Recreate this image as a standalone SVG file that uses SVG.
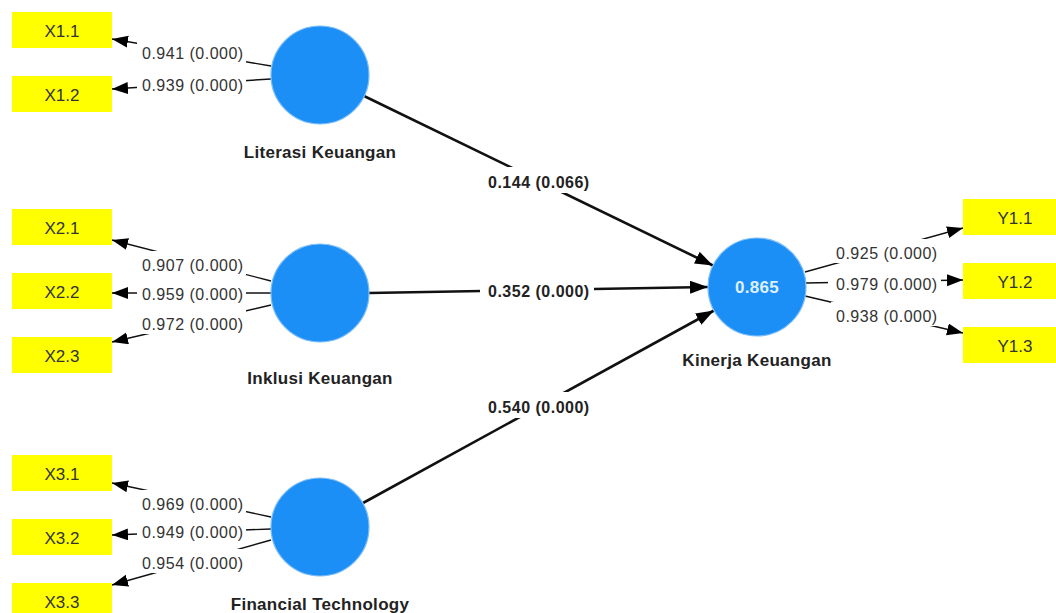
<svg xmlns="http://www.w3.org/2000/svg" width="1056" height="613" viewBox="0 0 1056 613">
<style>
.box{fill:#ffff00}
.btxt{font-family:"Liberation Sans",Arial,sans-serif;font-size:17px;fill:#333;text-anchor:middle}
.lv{fill:#1b8ff5;stroke:#7dbdf7;stroke-width:1.2}
.ntxt{font-family:"Liberation Sans",Arial,sans-serif;font-size:17px;font-weight:bold;fill:#222;text-anchor:middle;letter-spacing:0.3px}
.ind{stroke:#111;stroke-width:1.4;fill:none;marker-end:url(#ah)}
.str{stroke:#111;stroke-width:2.6;fill:none;marker-end:url(#ahb)}
.bg{fill:#fff}
.ltxt{font-family:"Liberation Sans",Arial,sans-serif;font-size:16px;fill:#333;letter-spacing:0.5px}
.ptxt{font-family:"Liberation Sans",Arial,sans-serif;font-size:16px;font-weight:bold;fill:#222;letter-spacing:0.5px}
</style>
<defs>
<marker id="ah" markerUnits="userSpaceOnUse" markerWidth="17" markerHeight="13" refX="16" refY="6" orient="auto"><path d="M0,0 L16,6 L0,12 Z" fill="#000"/></marker>
<marker id="ahb" markerUnits="userSpaceOnUse" markerWidth="20" markerHeight="14" refX="18" refY="6.5" orient="auto"><path d="M0,0 L18,6.5 L0,13 Z" fill="#000"/></marker>
</defs>
<rect width="1056" height="613" fill="#fff"/>
<g id="connectors">
<line class="ind" x1="271" y1="66" x2="112" y2="39"/>
<line class="ind" x1="271" y1="79" x2="112" y2="89"/>
<line class="ind" x1="271" y1="281" x2="112" y2="240"/>
<line class="ind" x1="271" y1="293" x2="112" y2="293"/>
<line class="ind" x1="271" y1="305" x2="112" y2="342"/>
<line class="ind" x1="271" y1="517" x2="112" y2="483"/>
<line class="ind" x1="271" y1="529" x2="112" y2="535"/>
<line class="ind" x1="271" y1="540" x2="112" y2="585"/>
<line class="ind" x1="805" y1="272" x2="963" y2="228"/>
<line class="ind" x1="806" y1="283" x2="963" y2="280"/>
<line class="ind" x1="805" y1="296" x2="963" y2="333"/>
<line class="str" x1="364" y1="96" x2="713" y2="265.5"/>
<line class="str" x1="369" y1="293" x2="708" y2="287"/>
<line class="str" x1="363" y1="503" x2="714" y2="310.5"/>
<g id="labels">
<rect class="bg" x="137" y="40" width="109" height="24"/>
<text class="ltxt" x="142" y="59">0.941 (0.000)</text>
<rect class="bg" x="137" y="72" width="109" height="24"/>
<text class="ltxt" x="142" y="91">0.939 (0.000)</text>
<rect class="bg" x="137" y="251" width="109" height="24"/>
<text class="ltxt" x="142" y="271">0.907 (0.000)</text>
<rect class="bg" x="137" y="280" width="109" height="24"/>
<text class="ltxt" x="142" y="300">0.959 (0.000)</text>
<rect class="bg" x="137" y="310" width="109" height="24"/>
<text class="ltxt" x="142" y="330">0.972 (0.000)</text>
<rect class="bg" x="137" y="490" width="109" height="24"/>
<text class="ltxt" x="142" y="510">0.969 (0.000)</text>
<rect class="bg" x="137" y="518" width="109" height="24"/>
<text class="ltxt" x="142" y="538">0.949 (0.000)</text>
<rect class="bg" x="137" y="549" width="109" height="24"/>
<text class="ltxt" x="142" y="569">0.954 (0.000)</text>
<rect class="bg" x="831" y="239" width="109" height="24"/>
<text class="ltxt" x="836" y="259">0.925 (0.000)</text>
<rect class="bg" x="828" y="270" width="113" height="24"/>
<text class="ltxt" x="836" y="290">0.979 (0.000)</text>
<rect class="bg" x="831" y="302" width="109" height="24"/>
<text class="ltxt" x="836" y="322">0.938 (0.000)</text>
<rect class="bg" x="484" y="167" width="110" height="26"/>
<text class="ptxt" x="488" y="188">0.144 (0.066)</text>
<rect class="bg" x="480" y="282" width="114" height="20"/>
<text class="ptxt" x="488" y="297">0.352 (0.000)</text>
<rect class="bg" x="484" y="392" width="110" height="26"/>
<text class="ptxt" x="488" y="413">0.540 (0.000)</text>
</g>
</g>
<g id="X1.1"><rect class="box" x="12" y="12" width="100" height="36"/><text class="btxt" x="62" y="37">X1.1</text></g>
<g id="X1.2"><rect class="box" x="12" y="76" width="100" height="36"/><text class="btxt" x="62" y="101">X1.2</text></g>
<g id="X2.1"><rect class="box" x="12" y="209" width="100" height="36"/><text class="btxt" x="62" y="234">X2.1</text></g>
<g id="X2.2"><rect class="box" x="12" y="273" width="100" height="36"/><text class="btxt" x="62" y="298">X2.2</text></g>
<g id="X2.3"><rect class="box" x="12" y="337" width="100" height="36"/><text class="btxt" x="62" y="362">X2.3</text></g>
<g id="X3.1"><rect class="box" x="12" y="455" width="100" height="36"/><text class="btxt" x="62" y="480">X3.1</text></g>
<g id="X3.2"><rect class="box" x="12" y="519" width="100" height="36"/><text class="btxt" x="62" y="544">X3.2</text></g>
<g id="X3.3"><rect class="box" x="12" y="583" width="100" height="36"/><text class="btxt" x="62" y="608">X3.3</text></g>
<g id="Y1.1"><rect class="box" x="963" y="199" width="100" height="36"/><text class="btxt" x="1015" y="224">Y1.1</text></g>
<g id="Y1.2"><rect class="box" x="963" y="263" width="100" height="36"/><text class="btxt" x="1015" y="288">Y1.2</text></g>
<g id="Y1.3"><rect class="box" x="963" y="327" width="100" height="36"/><text class="btxt" x="1015" y="352">Y1.3</text></g>
<g id="literasi"><circle class="lv" cx="320" cy="75" r="49"/><text class="ntxt" x="320" y="158">Literasi Keuangan</text></g>
<g id="inklusi"><circle class="lv" cx="320" cy="293" r="49"/><text class="ntxt" x="320" y="384">Inklusi Keuangan</text></g>
<g id="fintech"><circle class="lv" cx="320" cy="527" r="49"/><text class="ntxt" x="320" y="610">Financial Technology</text></g>
<g id="kinerja"><circle class="lv" cx="757" cy="287" r="49"/><text class="ntxt" x="757" y="293" style="fill:#dff0ff;font-size:17px">0.865</text><text class="ntxt" x="757" y="366">Kinerja Keuangan</text></g>
</svg>
